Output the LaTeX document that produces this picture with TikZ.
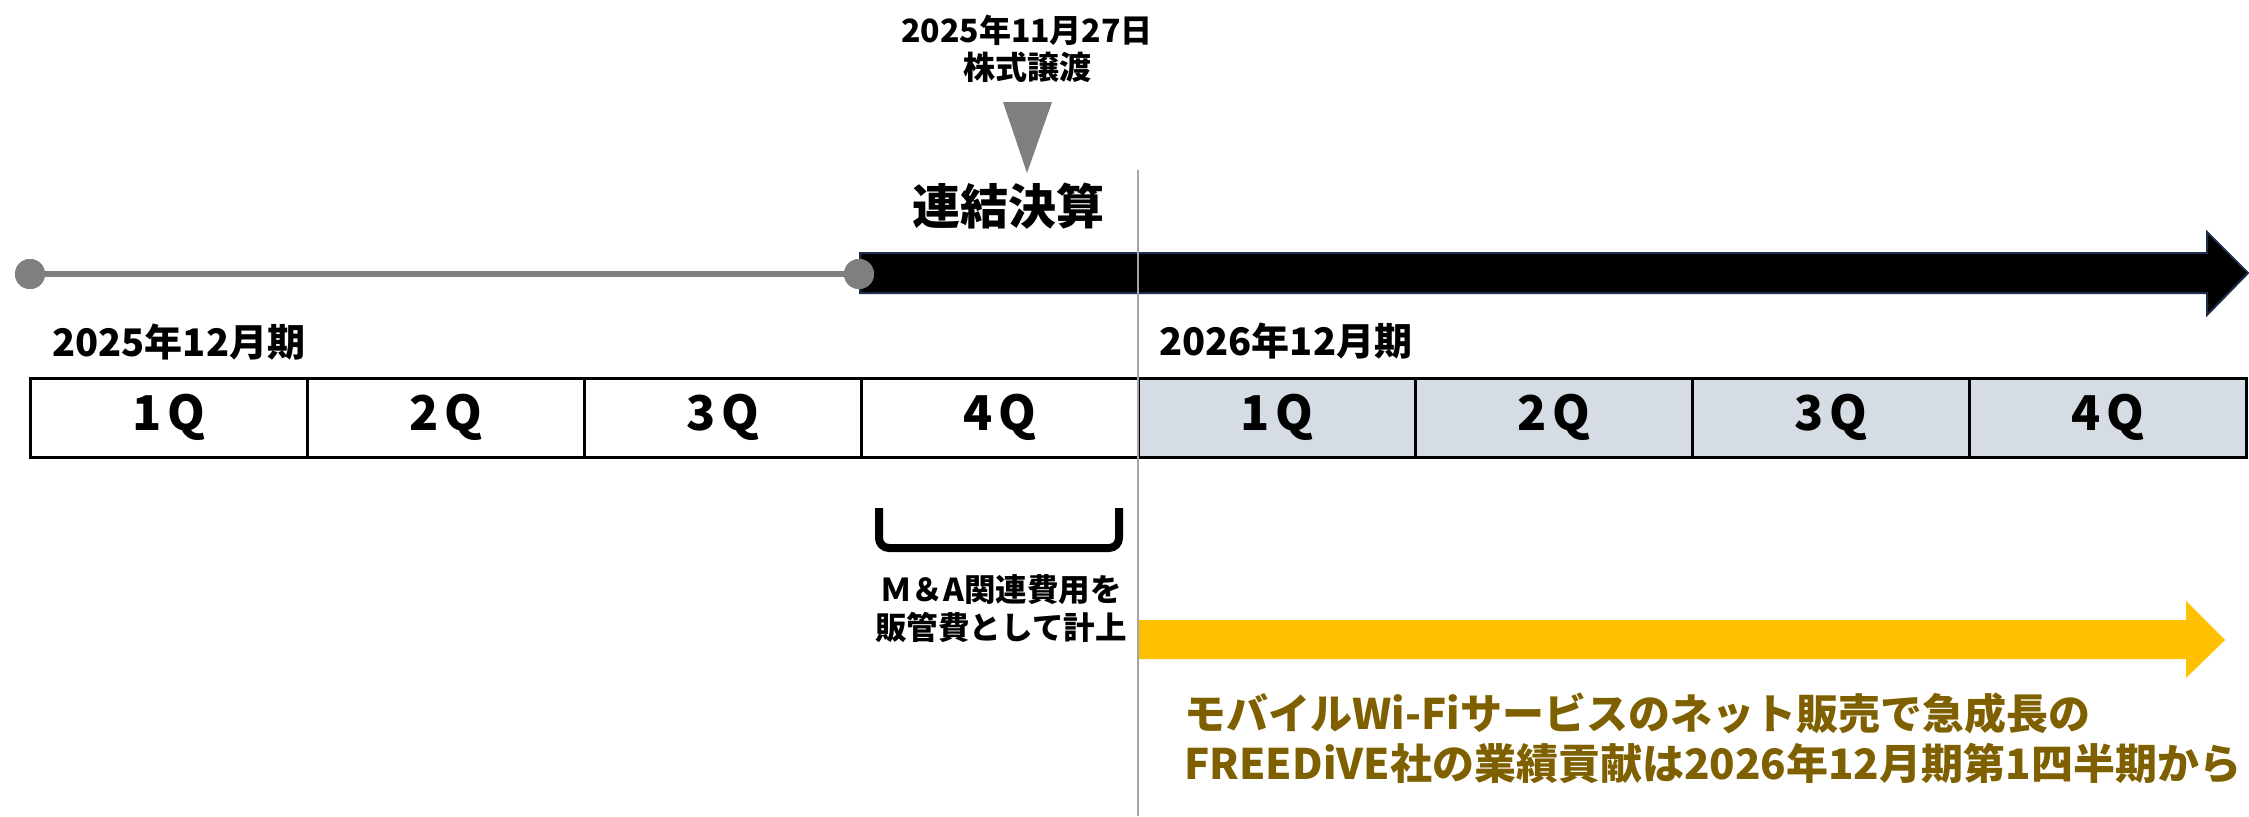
\documentclass[tikz,border=0pt]{standalone}
\usepackage{fontspec}
\setmainfont{Noto Sans CJK JP}
\definecolor{tlgray}{HTML}{7F7F7F}
\definecolor{vgray}{HTML}{A6A6A6}
\definecolor{qfill}{HTML}{D6DCE4}
\definecolor{gold}{HTML}{FFC000}
\definecolor{olive}{HTML}{7F6000}
\definecolor{navyedge}{HTML}{1F2D4D}
\tikzset{
  qcell/.style={draw=black, line width=1.5pt, minimum width=138.5pt, minimum height=39.5pt, inner sep=0pt, font=\fontsize{24}{28}\selectfont\bfseries},
  qcellB/.style={qcell, fill=qfill},
  dot/.style={circle, fill=tlgray, minimum size=15pt, inner sep=0pt},
  period/.style={anchor=west, inner sep=0pt, font=\fontsize{19}{23}\selectfont\bfseries},
  vline/.style={draw=vgray, line width=1pt},
}
\newcommand\qlab[1]{#1\hspace{3pt}Q}
\begin{document}
\begin{tikzpicture}[x=0.5pt,y=-0.5pt]
\useasboundingbox (0,0) rectangle (2249,816);
% black arrow (consolidation)
\fill[black, draw=navyedge, line width=1pt] (860,253) -- (2207,253) -- (2207,232) -- (2248,273) -- (2207,315) -- (2207,293) -- (860,293) -- cycle;
% grey line with dots
\node[dot] (d1) at (30,274) {};
\node[dot] (d2) at (859,274) {};
\draw[tlgray, line width=3pt] (d1.center) -- (d2.center);
\node[dot] at (d1) {};
\node[dot] at (d2) {};
% date label and marker
\node[align=center, inner sep=0pt, font=\fontsize{16}{18.5}\selectfont\bfseries] (date) at (1027,49) {2025年11月27日\\株式譲渡};
\fill[tlgray] (1003,102) -- (1052,102) -- (1027,173) -- cycle;
\node[inner sep=0pt, font=\fontsize{24}{28}\selectfont\bfseries] (renketsu) at (1008,206) {連結決算};
% period labels
\node[period] (p1) at (52,342) {2025年12月期};
\node[period] (p2) at (1159,341) {2026年12月期};
% table
\node[qcell]  (c1) at (168.5,417.5) {\qlab{1}};
\node[qcell]  (c2) at (445.5,417.5) {\qlab{2}};
\node[qcell]  (c3) at (722.5,417.5) {\qlab{3}};
\node[qcell]  (c4) at (999.5,417.5) {\qlab{4}};
\node[qcellB] (c5) at (1276.5,417.5) {\qlab{1}};
\node[qcellB] (c6) at (1553.5,417.5) {\qlab{2}};
\node[qcellB] (c7) at (1830.5,417.5) {\qlab{3}};
\node[qcellB] (c8) at (2107.5,417.5) {\qlab{4}};
% bracket
\coordinate (b1) at (879,508);
\coordinate (b2) at (879,548);
\coordinate (b3) at (1119,548);
\coordinate (b4) at (1119,508);
\draw[line width=4pt, rounded corners=5pt] (b1) -- (b2) -- (b3) -- (b4);
\node[align=center, inner sep=0pt, font=\fontsize{15.75}{19}\selectfont\bfseries] (ma) at (1001,609) {Ｍ＆A関連費用を\\販管費として計上};
% yellow arrow
\fill[gold] (1138,620) -- (2186,620) -- (2186,601) -- (2225,640) -- (2186,678) -- (2186,659) -- (1138,659) -- cycle;
\node[anchor=west, align=left, inner sep=0pt, text=olive, font=\fontsize{21}{25}\selectfont\bfseries] (note) at (1184,738) {モバイルWi-Fiサービスのネット販売で急成長の\\FREEDiVE社の業績貢献は2026年12月期第1四半期から};
% vertical divider
\coordinate (vtop) at (1138,170);
\coordinate (vbot) at (1138,816);
\draw[vline] (vtop) -- (vbot);
\end{tikzpicture}
\end{document}
